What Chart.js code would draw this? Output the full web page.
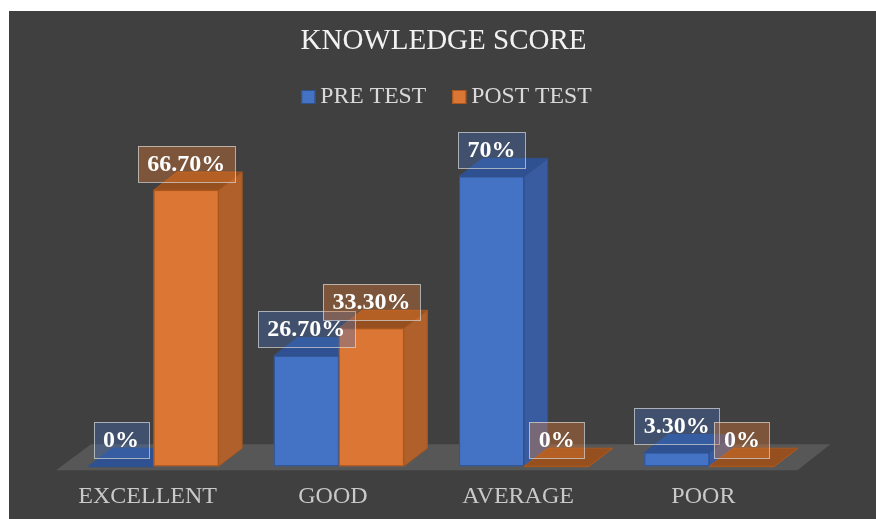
<!DOCTYPE html>
<html>
<head>
<meta charset="utf-8">
<script src="https://cdn.jsdelivr.net/npm/chart.js@4.4.1/dist/chart.umd.min.js"></script>
<style>
  html, body { margin: 0; padding: 0; background: #ffffff; }
  #wrap { position: absolute; left: 9px; top: 11px; width: 867px; height: 508px; background: #404040; }
</style>
</head>
<body>
<div id="wrap"><canvas id="knowledgeChart"></canvas></div>
<script>
// --- Data ---
const chartTitle = 'KNOWLEDGE SCORE';
const categories = ['EXCELLENT', 'GOOD', 'AVERAGE', 'POOR'];
const seriesNames = ['PRE TEST', 'POST TEST'];
const preTest = [0, 26.7, 70, 3.3];
const postTest = [66.7, 33.3, 0, 0];
const yMin = 0;
const yMax = 80;

// --- Look ---
const SERIF = '"Liberation Serif", "Times New Roman", serif';
const DEPTH_X = 23.5, DEPTH_Y = 18; // fake 3D offset for bar side/top faces

const palette = [
    { front: '#4472c4', side: '#385c9f', top: '#2f5191', edge: '#2f528f', box: 'rgba(68,114,196,0.35)' },
    { front: '#dc7634', side: '#b0602a', top: '#96501f', edge: '#a9571f', box: 'rgba(237,125,49,0.35)' }
];

function fmtPct(v) {
    return Number.isInteger(v) ? v + '%' : v.toFixed(2) + '%';
}

// title + legend + floor + 3D bars + value boxes
const bar3dPlugin = {
    id: 'bar3d',
    beforeDraw(chart) {
        const ctx = chart.ctx;
        ctx.save();
        ctx.fillStyle = '#f2f2f2';
        ctx.font = '29px ' + SERIF;
        ctx.textAlign = 'center';
        ctx.textBaseline = 'middle';
        ctx.fillText(chartTitle, chart.width / 2 + 1, 30);

        // legend
        ctx.font = '23.7px ' + SERIF;
        const box = 14, gap = 5, spacing = 26;
        const items = chart.data.datasets.map((ds, i) => ({ text: ds.label, c: palette[i], w: ctx.measureText(ds.label).width }));
        const total = items.reduce((s, it) => s + box + gap + it.w, 0) + spacing * (items.length - 1);
        let x = chart.width / 2 + 4 - total / 2;
        const ly = 86;
        ctx.textAlign = 'left';
        items.forEach(it => {
            ctx.fillStyle = it.c.front;
            ctx.fillRect(x, ly - box / 2, box, box);
            ctx.strokeStyle = it.c.edge;
            ctx.lineWidth = 1;
            ctx.strokeRect(x + 0.5, ly - box / 2 + 0.5, box - 1, box - 1);
            ctx.fillStyle = '#d9d9d9';
            ctx.fillText(it.text, x + box + gap, ly);
            x += box + gap + it.w + spacing;
        });
        ctx.restore();
    },
    afterDatasetsDraw(chart) {
        const { ctx, chartArea, scales } = chart;

        // floor
        const y0 = scales.y.getPixelForValue(0) + 4;
        const fl = chartArea.left - 5, fr = chartArea.right - 4.5;
        ctx.save();
        ctx.fillStyle = '#575757';
        ctx.beginPath();
        ctx.moveTo(fl, y0);
        ctx.lineTo(fl + 35, y0 - 26);
        ctx.lineTo(fr + 33, y0 - 26);
        ctx.lineTo(fr, y0);
        ctx.closePath();
        ctx.fill();

        // bars: pre test first so post test sits in front of its neighbour
        ctx.lineWidth = 1;
        chart.data.datasets.forEach((ds, i) => {
            const c = palette[i];
            ctx.strokeStyle = c.edge;
            chart.getDatasetMeta(i).data.forEach(bar => {
                const p = bar.getProps(['x', 'y', 'base', 'width'], true);
                const l = p.x - p.width / 2, r = p.x + p.width / 2;
                const t = Math.min(p.y, p.base), b = p.base;
                // front
                ctx.fillStyle = c.front;
                ctx.fillRect(l, t, r - l, b - t);
                ctx.strokeRect(l + 0.5, t + 0.5, r - l - 1, b - t - 1);
                // side
                ctx.beginPath();
                ctx.moveTo(r, t);
                ctx.lineTo(r + DEPTH_X, t - DEPTH_Y);
                ctx.lineTo(r + DEPTH_X, b - DEPTH_Y);
                ctx.lineTo(r, b);
                ctx.closePath();
                ctx.fillStyle = c.side;
                ctx.fill();
                ctx.stroke();
                // top
                ctx.beginPath();
                ctx.moveTo(l, t);
                ctx.lineTo(l + DEPTH_X, t - DEPTH_Y);
                ctx.lineTo(r + DEPTH_X, t - DEPTH_Y);
                ctx.lineTo(r, t);
                ctx.closePath();
                ctx.fillStyle = c.top;
                ctx.fill();
                ctx.stroke();
            });
        });

        // value boxes
        ctx.font = 'bold 24px ' + SERIF;
        ctx.textAlign = 'center';
        ctx.textBaseline = 'middle';
        chart.data.datasets.forEach((ds, i) => {
            chart.getDatasetMeta(i).data.forEach((bar, j) => {
                const txt = fmtPct(ds.data[j]);
                const w = Math.round(ctx.measureText(txt).width + 19), h = 36;
                const bx = Math.round(bar.x - w / 2), by = Math.round(bar.y - 26.5 - h / 2);
                ctx.fillStyle = palette[i].box;
                ctx.fillRect(bx, by, w, h);
                ctx.strokeStyle = 'rgba(217,217,217,0.7)';
                ctx.strokeRect(bx + 0.5, by + 0.5, w, h);
                ctx.fillStyle = '#ffffff';
                ctx.fillText(txt, bar.x, by + h / 2 + 1);
            });
        });
        ctx.restore();
    }
};

function initKnowledgeChart() {
    const el = document.getElementById('knowledgeChart');
    if (!el) return;

    new Chart(el.getContext('2d'), {
        type: 'bar',
        data: {
            labels: categories,
            datasets: [
                { label: seriesNames[0], data: preTest, backgroundColor: 'rgba(0,0,0,0)', borderWidth: 0 },
                { label: seriesNames[1], data: postTest, backgroundColor: 'rgba(0,0,0,0)', borderWidth: 0 }
            ]
        },
        options: {
            responsive: true,
            maintainAspectRatio: false,
            animation: false,
            categoryPercentage: 0.702,
            barPercentage: 1,
            layout: { padding: { top: 124, left: 52, right: 74, bottom: -8 } },
            plugins: {
                legend: { display: false },
                title: { display: false },
                tooltip: { enabled: false }
            },
            scales: {
                x: {
                    grid: { display: false, drawTicks: false },
                    border: { display: false },
                    ticks: {
                        color: '#c9c9c9',
                        font: { family: SERIF, size: 24 },
                        padding: 16,
                        labelOffset: -6
                    }
                },
                y: {
                    display: false,
                    min: yMin,
                    max: yMax
                }
            }
        },
        plugins: [bar3dPlugin]
    });
}

initKnowledgeChart();
</script>
</body>
</html>
